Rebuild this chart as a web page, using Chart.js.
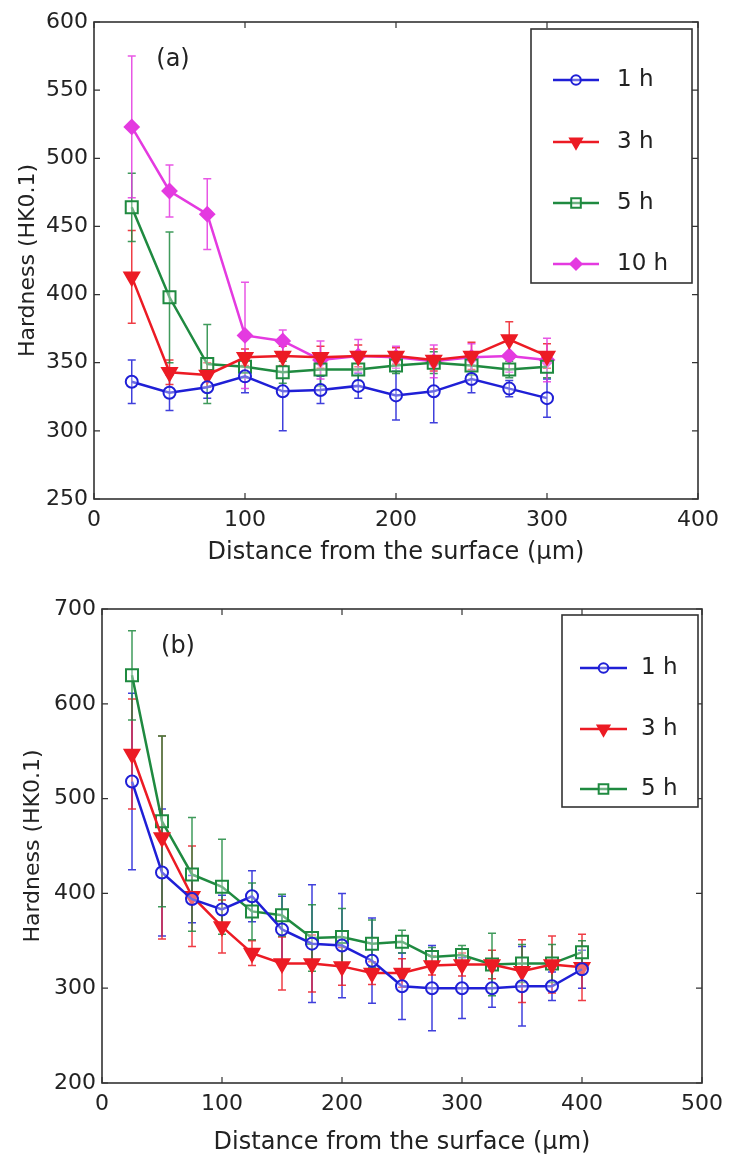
<!DOCTYPE html>
<html>
<head>
<meta charset="utf-8">
<script src="https://cdn.jsdelivr.net/npm/chart.js@4.4.1/dist/chart.umd.min.js"></script>
<style>
  html, body { margin: 0; padding: 0; background: #fff; }
  .panel { position: absolute; left: 0; width: 734px; }
  #panelA { top: 0; height: 578px; }
  #panelB { top: 578px; height: 580px; }
</style>
</head>
<body>
<div class="panel" id="panelA"><canvas id="chartA" width="734" height="578"></canvas></div>
<div class="panel" id="panelB"><canvas id="chartB" width="734" height="580"></canvas></div>
<script>
// panel (a) data
const depthA = [25, 50, 75, 100, 125, 150, 175, 200, 225, 250, 275, 300];
const hardA1 = [336, 328, 332, 340, 329, 330, 333, 326, 329, 338, 331, 324];
const errA1 = [16, 13, 8, 12, 29, 10, 9, 18, 23, 10, 6, 14];
const hardA3 = [413, 343, 341, 354, 355, 354, 355, 355, 352, 355, 367, 355];
const errA3 = [34, 9, 9, 6, 7, 8, 8, 6, 8, 10, 13, 9];
const hardA5 = [464, 398, 349, 347, 343, 345, 345, 348, 350, 348, 345, 347];
const errA5 = [25, 48, 29, 8, 8, 12, 8, 6, 8, 7, 6, 8];
const hardA10 = [523, 476, 459, 370, 366, 352, 355, 354, 351, 354, 355, 352];
const errA10 = [52, 19, 26, 39, 8, 14, 12, 8, 12, 10, 12, 16];
const xTicksA = [0, 100, 200, 300, 400];
const yTicksA = [250, 300, 350, 400, 450, 500, 550, 600];

// panel (b) data
const depthB = [25, 50, 75, 100, 125, 150, 175, 200, 225, 250, 275, 300, 325, 350, 375, 400];
const hardB1 = [518, 422, 394, 383, 397, 362, 347, 345, 329, 302, 300, 300, 300, 302, 302, 320];
const errB1 = [93, 67, 25, 15, 27, 35, 62, 55, 45, 35, 45, 32, 20, 42, 15, 20];
const hardB3 = [547, 459, 397, 365, 337, 326, 326, 323, 316, 316, 324, 325, 325, 318, 325, 322];
const errB3 = [58, 107, 53, 28, 13, 28, 30, 20, 12, 15, 10, 12, 15, 33, 30, 35];
const hardB5 = [630, 476, 420, 407, 381, 377, 353, 354, 347, 349, 333, 335, 325, 326, 326, 338];
const errB5 = [47, 90, 60, 50, 30, 22, 35, 30, 25, 12, 10, 10, 33, 20, 20, 12];
const xTicksB = [0, 100, 200, 300, 400, 500];
const yTicksB = [200, 300, 400, 500, 600, 700];

const FONT = '"DejaVu Sans", "Liberation Sans", sans-serif';
const TEXT = '#222';

const BLUE = '#1f1fd6';
const RED = '#ec1b24';
const GREEN = '#1f8a40';
const MAGENTA = '#e43ae0';

// marker look per series
const styles = {
    '1 h': { color: BLUE, pointStyle: 'circle', rotation: 0, radius: 6, filled: false },
    '3 h': { color: RED, pointStyle: 'triangle', rotation: 180, radius: 8.5, filled: true },
    '5 h': { color: GREEN, pointStyle: 'rect', rotation: 0, radius: 8.5, filled: false },
    '10 h': { color: MAGENTA, pointStyle: 'rectRot', rotation: 0, radius: 7, filled: true }
};

function make_dataset(label, xs, ys, errs) {
    const s = styles[label];
    return {
        label: label,
        data: xs.map((x, i) => ({ x: x, y: ys[i] })),
        errors: errs,
        borderColor: s.color,
        backgroundColor: s.color,
        borderWidth: 2.5,
        pointStyle: s.pointStyle,
        pointRotation: s.rotation,
        pointRadius: s.radius,
        pointBorderWidth: 2,
        pointBorderColor: s.color,
        pointBackgroundColor: s.filled ? s.color : 'rgba(255,255,255,0.35)',
        tension: 0
    };
}

// draws vertical error bars with caps through the scales
const errorBarPlugin = {
    id: 'errorBars',
    beforeDatasetsDraw(chart) {
        const ctx = chart.ctx;
        const xs = chart.scales.x, ys = chart.scales.y;
        ctx.save();
        chart.data.datasets.forEach(ds => {
            ctx.strokeStyle = ds.borderColor;
            ctx.globalAlpha = 0.85;
            ctx.lineWidth = 1.5;
            ds.data.forEach((p, i) => {
                const e = ds.errors[i];
                const px = xs.getPixelForValue(p.x);
                const top = ys.getPixelForValue(p.y + e);
                const bot = ys.getPixelForValue(p.y - e);
                ctx.beginPath();
                ctx.moveTo(px, top); ctx.lineTo(px, bot);
                ctx.moveTo(px - 4, top); ctx.lineTo(px + 4, top);
                ctx.moveTo(px - 4, bot); ctx.lineTo(px + 4, bot);
                ctx.stroke();
            });
        });
        ctx.restore();
    }
};

// box around plot, inward ticks on all sides, panel tag
const framePlugin = {
    id: 'frame',
    afterDraw(chart, args, opts) {
        const ctx = chart.ctx;
        const a = chart.chartArea;
        const xs = chart.scales.x, ys = chart.scales.y;
        ctx.save();
        ctx.strokeStyle = '#333';
        ctx.lineWidth = 1.6;
        ctx.strokeRect(a.left, a.top, a.right - a.left, a.bottom - a.top);
        ctx.lineWidth = 1.2;
        ctx.beginPath();
        xs.ticks.forEach(t => {
            const px = xs.getPixelForValue(t.value);
            ctx.moveTo(px, a.bottom); ctx.lineTo(px, a.bottom - 6);
            ctx.moveTo(px, a.top); ctx.lineTo(px, a.top + 6);
        });
        ys.ticks.forEach(t => {
            const py = ys.getPixelForValue(t.value);
            ctx.moveTo(a.left, py); ctx.lineTo(a.left + 6, py);
            ctx.moveTo(a.right, py); ctx.lineTo(a.right - 6, py);
        });
        ctx.stroke();
        ctx.fillStyle = TEXT;
        ctx.font = '24px ' + FONT;
        ctx.textAlign = 'center';
        ctx.textBaseline = 'middle';
        ctx.fillText(opts.tag, opts.tagX, opts.tagY);
        ctx.restore();
    }
};

// boxed legend in the upper right, matlab style
const boxLegendPlugin = {
    id: 'boxLegend',
    afterDraw(chart, args, opts) {
        const ctx = chart.ctx;
        const b = opts.box;
        ctx.save();
        ctx.fillStyle = '#fff';
        ctx.fillRect(b.left, b.top, b.right - b.left, b.bottom - b.top);
        ctx.strokeStyle = '#333';
        ctx.lineWidth = 1.6;
        ctx.strokeRect(b.left, b.top, b.right - b.left, b.bottom - b.top);
        chart.data.datasets.forEach((ds, i) => {
            const y = opts.rows[i];
            ctx.strokeStyle = ds.borderColor;
            ctx.lineWidth = 2.5;
            ctx.beginPath();
            ctx.moveTo(opts.lineFrom, y); ctx.lineTo(opts.lineTo, y);
            ctx.stroke();
            ctx.fillStyle = ds.pointBackgroundColor;
            ctx.strokeStyle = ds.pointBorderColor;
            ctx.lineWidth = 2;
            Chart.helpers.drawPoint(ctx, {
                pointStyle: ds.pointStyle,
                rotation: ds.pointRotation,
                radius: ds.pointRadius * 0.8,
                borderWidth: 2
            }, (opts.lineFrom + opts.lineTo) / 2, y);
            ctx.fillStyle = TEXT;
            ctx.font = '23px ' + FONT;
            ctx.textAlign = 'left';
            ctx.textBaseline = 'middle';
            ctx.fillText(ds.label, opts.textX, y);
        });
        ctx.restore();
    }
};

function make_panel(canvasId, datasets, p) {
    const config = {
        type: 'line',
        data: { datasets: datasets },
        options: {
            responsive: false,
            animation: false,
            events: [],
            layout: { padding: { top: p.padTop, right: p.padRight, left: 0, bottom: 0 } },
            plugins: {
                legend: { display: false },
                tooltip: { enabled: false },
                frame: { tag: p.tag, tagX: p.tagX, tagY: p.tagY },
                boxLegend: p.legend
            },
            scales: {
                x: {
                    type: 'linear',
                    min: p.xTicks[0],
                    max: p.xTicks[p.xTicks.length - 1],
                    afterBuildTicks: scale => { scale.ticks = p.xTicks.map(v => ({ value: v })); },
                    afterFit: scale => { scale.height = p.xAxisHeight; },
                    grid: { display: false, drawTicks: false },
                    border: { display: false },
                    ticks: { color: TEXT, font: { family: FONT, size: 22 }, padding: 8, maxRotation: 0 },
                    title: {
                        display: true,
                        text: 'Distance from the surface (μm)',
                        color: TEXT,
                        font: { family: FONT, size: 24 },
                        padding: { top: 0, bottom: p.xTitlePad }
                    }
                },
                y: {
                    type: 'linear',
                    min: p.yTicks[0],
                    max: p.yTicks[p.yTicks.length - 1],
                    afterBuildTicks: scale => { scale.ticks = p.yTicks.map(v => ({ value: v })); },
                    afterFit: scale => { scale.width = p.yAxisWidth; },
                    grid: { display: false, drawTicks: false },
                    border: { display: false },
                    ticks: { color: TEXT, font: { family: FONT, size: 22 }, padding: 6 },
                    title: {
                        display: true,
                        text: 'Hardness (HK0.1)',
                        color: TEXT,
                        font: { family: FONT, size: 22 },
                        padding: { top: p.yTitlePad, bottom: 0 }
                    }
                }
            }
        },
        plugins: [errorBarPlugin, framePlugin, boxLegendPlugin]
    };
    return new Chart(canvasId, config);
}

const chartA = make_panel('chartA', [
    make_dataset('1 h', depthA, hardA1, errA1),
    make_dataset('3 h', depthA, hardA3, errA3),
    make_dataset('5 h', depthA, hardA5, errA5),
    make_dataset('10 h', depthA, hardA10, errA10)
], {
    xTicks: xTicksA, yTicks: yTicksA,
    padTop: 22, padRight: 36, yAxisWidth: 94, xAxisHeight: 79,
    xTitlePad: 11, yTitlePad: 15,
    tag: '(a)', tagX: 173, tagY: 60,
    legend: { box: { left: 531, top: 29, right: 692, bottom: 283 }, rows: [80, 142, 203, 264], lineFrom: 553, lineTo: 599, textX: 617 }
});

const chartB = make_panel('chartB', [
    make_dataset('1 h', depthB, hardB1, errB1),
    make_dataset('3 h', depthB, hardB3, errB3),
    make_dataset('5 h', depthB, hardB5, errB5)
], {
    xTicks: xTicksB, yTicks: yTicksB,
    padTop: 31, padRight: 32, yAxisWidth: 102, xAxisHeight: 75,
    xTitlePad: 1, yTitlePad: 20,
    tag: '(b)', tagX: 178, tagY: 69,
    legend: { box: { left: 562, top: 37, right: 698, bottom: 229 }, rows: [90, 151, 211], lineFrom: 580, lineTo: 627, textX: 641 }
});
</script>
</body>
</html>
